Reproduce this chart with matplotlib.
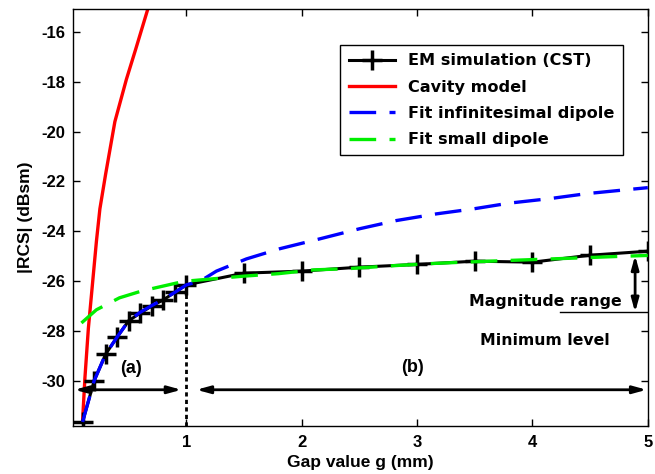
import numpy as np
import matplotlib
matplotlib.use('Agg')
import matplotlib.pyplot as plt

plt.rcParams['axes.unicode_minus'] = False

# EM simulation (CST) samples
cst_g = [0.1, 0.2, 0.3, 0.4, 0.5, 0.6, 0.7, 0.8, 0.9, 1.0,
         1.5, 2.0, 2.5, 3.0, 3.5, 4.0, 4.5, 5.0]
cst_rcs = [-31.65, -30.0, -28.93, -28.24, -27.59, -27.28, -27.0, -26.75, -26.45, -26.15,
           -25.68, -25.6, -25.44, -25.33, -25.2, -25.24, -24.96, -24.8]

# cavity model
cav_g = [0.1, 0.12, 0.15, 0.19, 0.22, 0.25, 0.30, 0.38, 0.48, 0.56, 0.665]
cav_rcs = [-31.6, -29.9, -27.9, -25.9, -24.4, -23.1, -21.7, -19.6, -17.9, -16.7, -15.09]

# fit infinitesimal dipole
inf_g = [0.1, 0.2, 0.3, 0.4, 0.5, 0.6, 0.7, 0.8, 0.9, 1.0, 1.12, 1.26, 1.52, 1.81,
         2.16, 2.5, 2.82, 3.17, 3.49, 3.8, 4.15, 4.47, 4.82, 5.0]
inf_rcs = [-31.65, -30.0, -28.93, -28.24, -27.59, -27.25, -26.98, -26.73, -26.45, -26.15,
           -26.0, -25.6, -25.11, -24.70, -24.30, -23.9, -23.57, -23.30, -23.1, -22.87,
           -22.69, -22.49, -22.33, -22.25]

# fit small dipole
sd_g = [0.09, 0.22, 0.42, 0.61, 0.75, 0.94, 1.0, 1.25, 1.5, 1.8, 2.1, 2.4, 2.8,
        3.1, 3.4, 3.8, 4.1, 4.4, 4.8, 5.0]
sd_rcs = [-27.68, -27.15, -26.67, -26.4, -26.25, -26.05, -26.0, -25.9, -25.8, -25.7,
          -25.55, -25.5, -25.38, -25.3, -25.24, -25.17, -25.12, -25.07, -25.0, -24.97]

tick_font = 'Liberation Sans'
txt_font = 'DejaVu Sans'

fig = plt.figure(figsize=(6.55, 4.74), dpi=100)
ax = fig.add_axes([0.112, 0.102, 0.877, 0.878])

ax.plot(cst_g, cst_rcs, color='black', lw=2.2, marker='+', ms=15, mew=2.5,
        label='EM simulation (CST)', zorder=3)
ax.plot(cav_g, cav_rcs, color='red', lw=2.4, label='Cavity model', zorder=2)
ax.plot(inf_g, inf_rcs, color='blue', lw=2.4, dashes=(8, 4),
        label='Fit infinitesimal dipole', zorder=4)
ax.plot(sd_g, sd_rcs, color='#00ee00', lw=2.4, dashes=(8, 4),
        label='Fit small dipole', zorder=4)

ax.set_xlim(0.02, 5)
ax.set_ylim(-31.8, -15.1)
ax.set_xticks([1, 2, 3, 4, 5])
ax.set_yticks(np.arange(-30, -15, 2))
ax.tick_params(direction='in', top=True, right=True, length=5, width=1)
ax.tick_params(axis='x', pad=7)
ax.tick_params(axis='y', pad=6)
for lab in ax.get_xticklabels() + ax.get_yticklabels():
    lab.set_fontfamily(tick_font)
    lab.set_fontweight('bold')
    lab.set_fontsize(12)
for s in ax.spines.values():
    s.set_linewidth(1)

ax.set_xlabel('Gap value g (mm)', fontfamily=tick_font, fontweight='bold',
              fontsize=12.5, labelpad=3)
ax.set_ylabel('|RCS| (dBsm)', fontfamily=tick_font, fontweight='bold',
              fontsize=12.5, labelpad=6)

# annotations
ax.plot([1, 1], [-31.8, -26.15], color='black', lw=2, ls=(0, (1.5, 1.2)), zorder=1)
arr = dict(arrowstyle='<|-|>,head_length=0.8,head_width=0.22', lw=2, color='black',
           shrinkA=0, shrinkB=0)
ax.annotate('', xy=(0.03, -30.36), xytext=(0.957, -30.36), arrowprops=arr)
ax.annotate('', xy=(1.087, -30.36), xytext=(4.99, -30.36), arrowprops=arr)
ax.annotate('', xy=(4.89, -24.97), xytext=(4.89, -27.25), arrowprops=arr)
ax.plot([4.24, 5.0], [-27.25, -27.25], color='black', lw=1)
ax.text(0.52, -29.5, '(a)', fontfamily=tick_font, fontweight='bold', fontsize=13,
        ha='center', va='center')
ax.text(2.96, -29.45, '(b)', fontfamily=tick_font, fontweight='bold', fontsize=13,
        ha='center', va='center')
ax.text(4.11, -26.8, 'Magnitude range', fontfamily=txt_font, fontweight='bold',
        fontsize=11.3, ha='center', va='center')
ax.text(4.11, -28.37, 'Minimum level', fontfamily=txt_font, fontweight='bold',
        fontsize=11.3, ha='center', va='center')

leg = ax.legend(loc='upper left', bbox_to_anchor=(0.465, 0.914), borderaxespad=0,
                prop={'family': txt_font, 'weight': 'bold', 'size': 11.6},
                fancybox=False, edgecolor='black', framealpha=1, numpoints=1,
                handlelength=2.9, handletextpad=0.8, labelspacing=0.7, borderpad=0.5)
leg.get_frame().set_linewidth(1)

fig.savefig('out.png', dpi=100)
